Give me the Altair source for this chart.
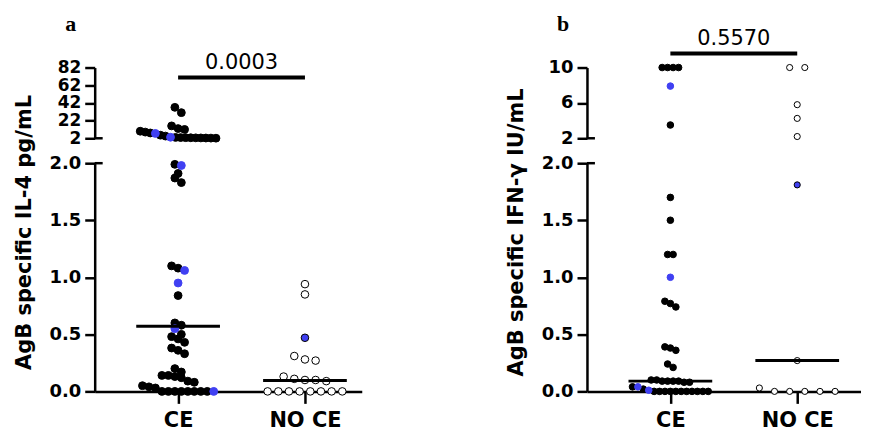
import altair as alt
import pandas as pd

groups = ["CE", "NO CE"]

# ---------- Panel a : AgB specific IL-4 (pg/mL) ----------
a_ce_black = [37, 31, 16, 13, 12, 10, 9, 8, 5.5, 4.5, 3.0, 2.8, 2.7, 2.6, 2.5, 2.4, 2.3, 2.2, 2.1,
              1.99, 1.91, 1.87, 1.83, 1.10, 1.08, 0.84, 0.60, 0.58, 0.50, 0.48, 0.46, 0.43,
              0.38, 0.36, 0.33, 0.20, 0.17, 0.14, 0.14, 0.13, 0.12, 0.09, 0.08, 0.05, 0.04, 0.03,
              0, 0, 0, 0, 0, 0, 0, 0]
a_ce_blue = [7.5, 3.2, 1.98, 1.06, 0.95, 0.55, 0]
a_noce_open = [0.94, 0.85, 0.31, 0.28, 0.27, 0.13, 0.11, 0.10, 0.10, 0.09, 0, 0, 0, 0, 0, 0, 0, 0]
a_noce_blue = [0.47]
a_medians = [0.57, 0.095]
a_p = "0.0003"
a_upper_ticks = [2, 22, 42, 62, 82]

# ---------- Panel b : AgB specific IFN-γ (IU/mL) ----------
b_ce_black = [10, 10, 10, 10, 3.5, 1.70, 1.50, 1.20, 1.20, 0.79, 0.77, 0.74, 0.39, 0.38, 0.36,
              0.24, 0.21, 0.10, 0.10, 0.09, 0.09, 0.09, 0.09, 0.08, 0.08, 0.04, 0.02,
              0, 0, 0, 0, 0, 0, 0, 0, 0, 0, 0]
b_ce_blue = [7.9, 1.0, 0.04, 0.01]
b_noce_open = [10, 10, 5.8, 4.25, 2.2, 0.27, 0.03, 0, 0, 0, 0, 0]
b_noce_blue = [1.81]
b_medians = [0.09, 0.27]
b_p = "0.5570"
b_upper_ticks = [2, 6, 10]

lower_ticks = [0, 0.5, 1.0, 1.5, 2.0]

# ---------- layout / style ----------
BLUE = "#4040f2"
UP_H, LO_H, GAP = 71, 229, 25
X_PX = 127.3      # pixels between the two groups
X_LEFT = 83.7     # pixels from the y axis to the CE column
W_A, W_B = 268, 275
FONT = "DejaVu Sans"


def swarm(vals, px_per_unit, spacing, max_w, row_h):
    n = len(vals)
    order = sorted(range(n), key=lambda i: vals[i])
    rows, cur, start = [], [], 0.0
    for i in order:
        p = vals[i] * px_per_unit
        if cur and p - start >= row_h:
            rows.append(cur)
            cur = []
        if not cur:
            start = p
        cur.append(i)
    if cur:
        rows.append(cur)
    off = [0.0] * n
    for row in rows:
        row = sorted(row, key=lambda i: -vals[i])
        k = len(row)
        sp = spacing if k < 2 else min(spacing, max_w / (k - 1))
        for j, i in enumerate(row):
            off[i] = (j - (k - 1) / 2) * sp
    return off


records = []


def build(panel, gi, black, blue, open_style, up_ppu, size, params):
    vals = black + blue
    kinds = ["base"] * len(black) + ["blue"] * len(blue)
    for seg in ("upper", "lower"):
        idx = [i for i, v in enumerate(vals) if (v > 2) == (seg == "upper")]
        sv = [vals[i] for i in idx]
        ppu = up_ppu if seg == "upper" else LO_H / 2
        offs = swarm(sv, ppu, *params)
        for i, o in zip(idx, offs):
            if open_style:
                fill = "white" if kinds[i] == "base" else BLUE
                stroke = "black"
            else:
                fill = "black" if kinds[i] == "base" else BLUE
                stroke = fill
            records.append(dict(panel=panel, seg=seg, value=vals[i], x=gi + o / X_PX,
                                fill=fill, stroke=stroke, size=size))


build("a", 0, a_ce_black, a_ce_blue, False, UP_H / 80, 62, (6.5, 76, 8))
build("a", 1, a_noce_open, a_noce_blue, True, UP_H / 80, 58, (10.7, 76, 8))
build("b", 0, b_ce_black, b_ce_blue, False, UP_H / 8, 44, (5.5, 76, 8))
build("b", 1, b_noce_open, b_noce_blue, True, UP_H / 8, 38, (15.2, 76, 8))
df = pd.DataFrame(records)


def panel(pid, letter, p_text, up_ticks, up_label_size, y_title, width, medians, sig_y, title_x):
    d = df[df.panel == pid]
    xs = alt.Scale(domain=[-X_LEFT / X_PX, (width - X_LEFT) / X_PX], nice=False, zero=False)
    up_scale = alt.Scale(domain=[up_ticks[0], up_ticks[-1]], nice=False, zero=False)
    up_axis = alt.Axis(values=up_ticks, format="d", title=None, labelFontSize=up_label_size)
    lo_scale = alt.Scale(domain=[0, 2], nice=False, zero=False)
    lo_axis = alt.Axis(values=lower_ticks, format=".1f", title=y_title, titleX=title_x, titleY=69,
                       titleAngle=270, titleAlign="center", titleBaseline="middle")
    x_axis = alt.Axis(values=[0, 1], labelExpr="datum.value == 0 ? 'CE' : 'NO CE'", title=None,
                      tickSize=12, labelFontSize=21, labelPadding=6)

    def pts(data, y_scale, y_axis, xaxis):
        return alt.Chart(data).mark_point(shape="circle", filled=True, strokeWidth=1, opacity=1).encode(
            x=alt.X("x:Q", scale=xs, axis=xaxis),
            y=alt.Y("value:Q", scale=y_scale, axis=y_axis),
            fill=alt.Fill("fill:N", scale=None),
            stroke=alt.Stroke("stroke:N", scale=None),
            size=alt.Size("size:Q", scale=None),
        )

    sig_df = pd.DataFrame({"x1": [0], "x2": [1], "xm": [0.5], "p": [p_text]})
    sig_rule = alt.Chart(sig_df).mark_rule(strokeWidth=4, color="black").encode(
        x=alt.X("x1:Q", scale=xs, axis=None), x2="x2:Q", y=alt.value(sig_y))
    sig_txt = alt.Chart(sig_df).mark_text(font=FONT, fontSize=21, baseline="alphabetic", dy=-9,
                                          color="black").encode(
        x=alt.X("xm:Q", scale=xs, axis=None), y=alt.value(sig_y), text="p:N")
    let_txt = alt.Chart(pd.DataFrame({"t": [letter]})).mark_text(
        font="Liberation Serif", fontWeight="bold", fontSize=22, baseline="alphabetic",
        align="center", color="black").encode(x=alt.value(-24), y=alt.value(-37), text="t:N")
    cap_up = alt.Chart(pd.DataFrame({"c": [0]})).mark_rule(strokeWidth=2.5, color="black").encode(
        x=alt.value(0), x2=alt.value(8), y=alt.value(UP_H))
    upper = alt.layer(pts(d[d.seg == "upper"], up_scale, up_axis, None),
                      sig_rule, sig_txt, let_txt, cap_up).properties(width=width, height=UP_H)

    med_df = pd.DataFrame({"g": [0, 1], "m": medians})
    med = alt.Chart(med_df).transform_calculate(lo="datum.g - 0.33", hi="datum.g + 0.33").mark_rule(
        strokeWidth=3, color="black").encode(
        x=alt.X("lo:Q", scale=xs, axis=x_axis), x2="hi:Q",
        y=alt.Y("m:Q", scale=lo_scale, axis=lo_axis))
    cap_lo = alt.Chart(pd.DataFrame({"c": [0]})).mark_rule(strokeWidth=2.5, color="black").encode(
        x=alt.value(0), x2=alt.value(8), y=alt.value(0))
    lower = alt.layer(pts(d[d.seg == "lower"], lo_scale, lo_axis, x_axis), med, cap_lo).properties(
        width=width, height=LO_H)

    return alt.vconcat(upper, lower, spacing=GAP, bounds="flush").resolve_scale(
        x="independent", y="independent")


pa = panel("a", "a", a_p, a_upper_ticks, 17, "AgB specific IL-4 pg/mL", W_A, a_medians, 10, -70)
pb = panel("b", "b", b_p, b_upper_ticks, 18, "AgB specific IFN-γ IU/mL", W_B, b_medians, -14, -71)

chart = alt.hconcat(pa, pb, spacing=143).properties(
    padding={"left": 5, "top": 4, "right": 0, "bottom": 0}
).configure_axis(
    domainColor="black", domainWidth=2.5, tickColor="black", tickWidth=2.5, tickSize=10,
    labelColor="black", labelFont=FONT, labelFontWeight="bold", labelFontSize=18, labelPadding=4,
    grid=False, labelOverlap=False, labelFlush=False,
    titleFont=FONT, titleFontWeight="bold", titleFontSize=21, titleColor="black",
).configure_view(stroke=None)

chart.save("out.html", embed_options={"renderer": "svg", "actions": False})
